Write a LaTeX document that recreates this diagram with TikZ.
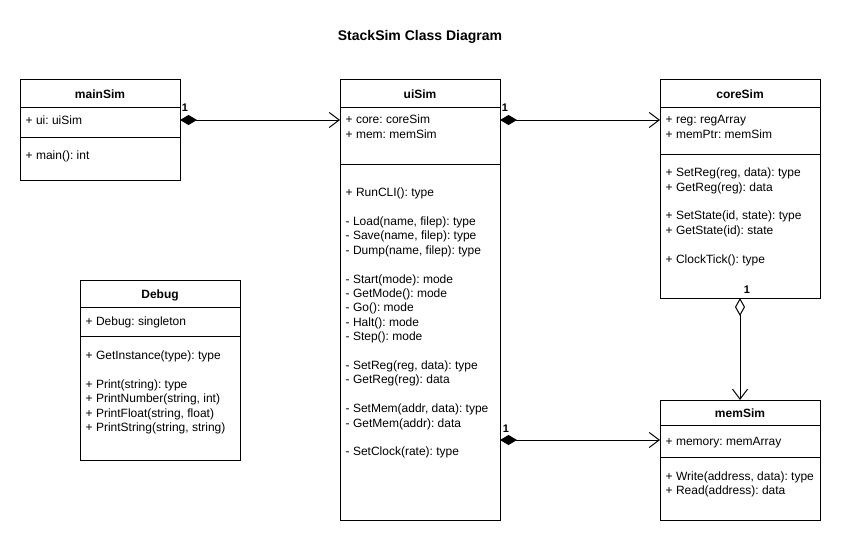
\documentclass[tikz,border=0pt]{standalone}
\usepackage{fontspec}
\setmainfont{Liberation Sans}
\usetikzlibrary{arrows.meta}
\newcommand{\mystrut}{\rule{0pt}{10.4pt}}
\frenchspacing
\begin{document}
\begin{tikzpicture}[x=1pt,y=-1pt,
  cls/.style={draw, line width=1pt, anchor=north west, minimum width=160pt, inner sep=0pt, outer sep=0pt},
  hdr/.style={anchor=base, inner sep=0pt, font=\fontsize{12pt}{14.4pt}\selectfont\bfseries},
  txt/.style={anchor=north west, inner sep=0pt, align=left, font=\fontsize{12pt}{14.4pt}\selectfont},
  mult/.style={inner sep=0pt, font=\fontsize{11pt}{13pt}\selectfont\bfseries},
  comp/.style={line width=1pt, {Diamond[length=17pt,width=10pt]}-{Straight Barb[length=10pt,width=15pt]}},
  aggr/.style={line width=1pt, {Diamond[open,length=18pt,width=10pt,fill=white]}-{Straight Barb[length=10pt,width=15pt]}},
  sep/.style={line width=1pt}
]
\useasboundingbox (0,0) rectangle (841,543);

\node[anchor=base, inner sep=0pt, font=\fontsize{14pt}{16pt}\selectfont\bfseries] (title) at (420,41) {StackSim Class Diagram};

% mainSim
\node[cls, minimum height=100pt] (mainSim) at (20,80) {};
\draw[sep] ([yshift=-27pt]mainSim.north west) -- ([yshift=-27pt]mainSim.north east);
\draw[sep] ([yshift=-57pt]mainSim.north west) -- ([yshift=-57pt]mainSim.north east);
\node[hdr] (mainSimT) at (100,98.5) {mainSim};
\node[txt] (mainSimA) at (25.5,114.1) {\mystrut+ ui: uiSim};
\node[txt] (mainSimM) at (25.5,149.1) {\mystrut+ main(): int};

% uiSim
\node[cls, minimum height=440pt] (uiSim) at (340,80) {};
\draw[sep] ([yshift=-27pt]uiSim.north west) -- ([yshift=-27pt]uiSim.north east);
\draw[sep] ([yshift=-84pt]uiSim.north west) -- ([yshift=-84pt]uiSim.north east);
\node[hdr] (uiSimT) at (420,98.5) {uiSim};
\node[txt] (uiSimA) at (345.5,113.1) {\mystrut+ core: coreSim\\+ mem: memSim};
\node[txt] (uiSimM) at (345.5,186.1) {\mystrut+ RunCLI(): type\\[14.4pt]
- Load(name, filep): type\\
- Save(name, filep): type\\
- Dump(name, filep): type\\[14.4pt]
- Start(mode): mode\\
- GetMode(): mode\\
- Go(): mode\\
- Halt(): mode\\
- Step(): mode\\[14.4pt]
- SetReg(reg, data): type\\
- GetReg(reg): data\\[14.4pt]
- SetMem(addr, data): type\\
- GetMem(addr): data\\[14.4pt]
- SetClock(rate): type};

% coreSim
\node[cls, minimum height=218pt] (coreSim) at (660,80) {};
\draw[sep] ([yshift=-27pt]coreSim.north west) -- ([yshift=-27pt]coreSim.north east);
\draw[sep] ([yshift=-74pt]coreSim.north west) -- ([yshift=-74pt]coreSim.north east);
\node[hdr] (coreSimT) at (740,98.5) {coreSim};
\node[txt] (coreSimA) at (665.5,113.1) {\mystrut+ reg: regArray\\+ memPtr: memSim};
\node[txt] (coreSimM) at (665.5,166.1) {\mystrut+ SetReg(reg, data): type\\
+ GetReg(reg): data\\[14.4pt]
+ SetState(id, state): type\\
+ GetState(id): state\\[14.4pt]
+ ClockTick(): type};

% memSim
\node[cls, minimum height=120pt] (memSim) at (660,400) {};
\draw[sep] ([yshift=-25pt]memSim.north west) -- ([yshift=-25pt]memSim.north east);
\draw[sep] ([yshift=-57pt]memSim.north west) -- ([yshift=-57pt]memSim.north east);
\node[hdr] (memSimT) at (740,417.5) {memSim};
\node[txt] (memSimA) at (665.5,435.1) {\mystrut+ memory: memArray};
\node[txt] (memSimM) at (665.5,469.6) {\mystrut+ Write(address, data): type\\+ Read(address): data};

% Debug
\node[cls, minimum height=180pt] (debug) at (80,280) {};
\draw[sep] ([yshift=-27pt]debug.north west) -- ([yshift=-27pt]debug.north east);
\draw[sep] ([yshift=-56pt]debug.north west) -- ([yshift=-56pt]debug.north east);
\node[hdr] (debugT) at (160,298.5) {Debug};
\node[txt] (debugA) at (85.5,314.6) {\mystrut+ Debug: singleton};
\node[txt] (debugM) at (85.5,349.1) {\mystrut+ GetInstance(type): type\\[14.4pt]
+ Print(string): type\\
+ PrintNumber(string, int)\\
+ PrintFloat(string, float)\\
+ PrintString(string, string)};

% connectors
\coordinate (m1) at ([yshift=-40pt]memSim.north west);
\draw[comp] ([yshift=-40pt]mainSim.north east) -- ([yshift=-40pt]uiSim.north west);
\draw[comp] ([yshift=-40pt]uiSim.north east) -- ([yshift=-40pt]coreSim.north west);
\draw[comp] (uiSim.east |- m1) -- (m1);
\draw[aggr] (coreSim.south) -- (memSim.north);

\node[mult] (l1) at (185,108) {1};
\node[mult] (l2) at (505,108) {1};
\node[mult] (l3) at (506,429) {1};
\node[mult] (l4) at (747,290) {1};
\end{tikzpicture}
\end{document}
